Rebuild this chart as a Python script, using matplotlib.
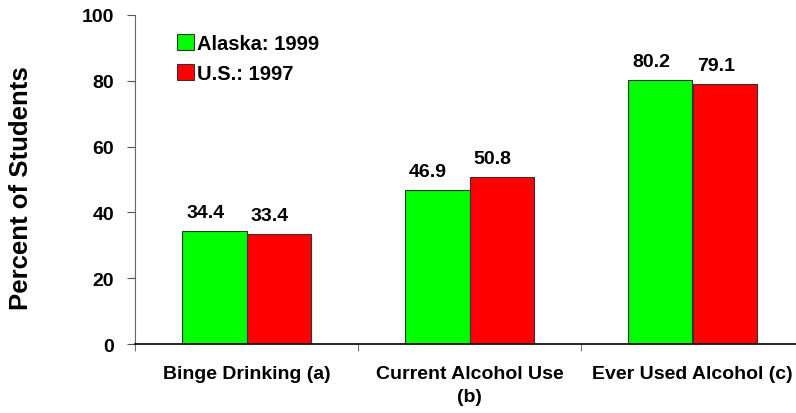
import matplotlib
matplotlib.use("Agg")
import matplotlib.pyplot as plt
import numpy as np

categories = ["Binge Drinking (a)", "Current Alcohol Use\n(b)", "Ever Used Alcohol (c)"]
alaska_1999 = [34.4, 46.9, 80.2]
us_1997 = [33.4, 50.8, 79.1]
series_names = ["Alaska: 1999", "U.S.: 1997"]
yticks = [0, 20, 40, 60, 80, 100]

plt.rcParams['font.family'] = ['Liberation Sans', 'DejaVu Sans']
plt.rcParams['font.weight'] = 'bold'

W, H = 796, 414
fig = plt.figure(figsize=(W/100, H/100), dpi=100)
left, right = 135, 804
top, bottom = 16, 345
ax = fig.add_axes([left/W, 1-bottom/H, (right-left)/W, (bottom-top)/H])

x = np.arange(len(categories))
bw = 0.29
b1 = ax.bar(x - bw/2, alaska_1999, bw, color='#00ff00', edgecolor='#333333', linewidth=0.8, label=series_names[0])
b2 = ax.bar(x + bw/2, us_1997, bw, color='#ff0000', edgecolor='#333333', linewidth=0.8, label=series_names[1])

for bars, vals in ((b1, alaska_1999), (b2, us_1997)):
    for r, v in zip(bars, vals):
        ax.annotate(f"{v:.1f}", (r.get_x() + r.get_width()/2, v), xytext=(-6.5, 7),
                    textcoords='offset points', ha='center', va='bottom',
                    fontsize=14, fontweight='bold')

ax.set_xlim(-0.5, len(categories) - 0.5)
ax.set_ylim(0, 100)
ax.set_yticks(yticks)
ax.set_yticklabels([str(t) for t in yticks], fontsize=14, fontweight='bold')
ax.set_xticks(x)
ax.set_xticklabels(categories, fontsize=14, fontweight='bold', linespacing=1.45)
ax.tick_params(axis='x', length=0, pad=15)
ax.set_xticks(np.arange(len(categories) + 1) - 0.5, minor=True)
ax.tick_params(axis='x', which='minor', length=5, color='#555555', direction='out')
ax.tick_params(axis='y', length=6, direction='out', color='#555555', pad=9)

for s in ('top', 'right'):
    ax.spines[s].set_visible(False)
ax.spines['left'].set_color('#666666')
ax.spines['bottom'].set_color('black')
ax.spines['bottom'].set_linewidth(1.2)

fig.text(21/W, 1-188/H, "Percent of Students", rotation=90, ha='center', va='center',
         fontsize=18.5, fontweight='bold')

leg = ax.legend(loc='upper left', bbox_to_anchor=(0.063, 0.943), frameon=False,
                prop={'size': 14.5, 'weight': 'bold'}, handlelength=0.85, handleheight=0.85,
                handletextpad=0.15, labelspacing=0.55, borderaxespad=0, borderpad=0)

fig.savefig("out.png", dpi=100)
